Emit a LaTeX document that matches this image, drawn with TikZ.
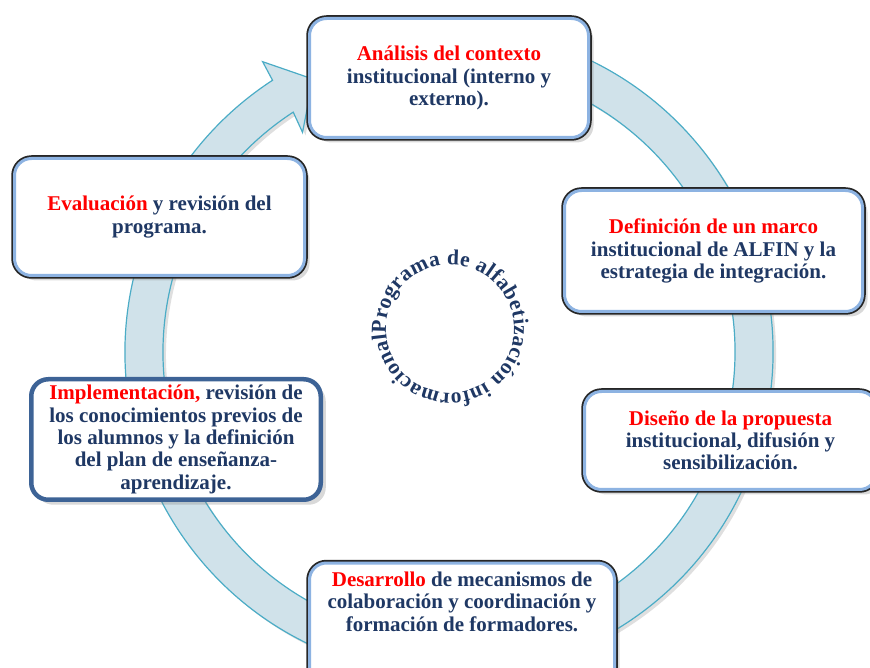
\documentclass[tikz,border=0pt]{standalone}
\usepackage{fontspec}
\setmainfont{Liberation Serif}
\usetikzlibrary{shadows,decorations.text}

\definecolor{navy}{RGB}{31,56,100}
\definecolor{keyred}{RGB}{255,0,0}
\definecolor{ringfill}{RGB}{208,226,234}
\definecolor{ringedge}{RGB}{75,172,198}
\definecolor{boxglow}{RGB}{141,179,226}
\definecolor{boxsteel}{RGB}{61,99,150}

\newcommand{\stagekey}[1]{\textcolor{keyred}{#1}}
\newcommand{\circfont}{\fontsize{21.5}{21.5}\selectfont\bfseries\color{navy}}

\begin{document}
\begin{tikzpicture}[
    x=1pt, y=1pt,
    font=\fontsize{21}{22.3}\selectfont\bfseries,
    boxbase/.style   = {rectangle, rounded corners=17pt, fill=white,
                        align=center, text=navy, inner sep=4pt,
                        drop shadow={shadow xshift=5pt, shadow yshift=-5pt,
                                     opacity=0.3}},
    stage/.style     = {boxbase, preaction={draw=black!85, line width=6.5pt},
                        draw=boxglow, line width=3pt},
    stagebold/.style = {boxbase, draw=boxsteel, line width=4.5pt},
    ring/.style      = {fill=ringfill, draw=ringedge, line width=1.2pt,
                        drop shadow={shadow xshift=3pt, shadow yshift=-3pt,
                                     opacity=0.25}}
]
\useasboundingbox (0,0) rectangle (870,667);

% --- Cycle ring with arrowhead ------------------------------------------------
\coordinate (hub) at (449,315);
\coordinate (ctr) at (450,338);

\draw[ring] ([shift={(75:324)}]hub) arc[start angle=75, end angle=-237, radius=324]
    -- ([shift={(122.7:345)}]hub)
    -- ([shift={(116.5:305)}]hub)
    -- ([shift={(123.7:264)}]hub)
    -- ([shift={(123:286)}]hub)
    arc[start angle=-237, end angle=75, radius=286] -- cycle;

% --- Stages (clockwise from the top) ------------------------------------------
\node[stage, minimum width=279pt, minimum height=119pt] (analisis) at (449,589)
  {\stagekey{Análisis del contexto}\\
   institucional (interno y\\
   externo).};

\node[stage, minimum width=298pt, minimum height=121pt] (definicion) at (713.5,416)
  {\stagekey{Definición de un marco}\\
   institucional de ALFIN y la\\
   estrategia de integración.};

\node[stage, minimum width=292pt, minimum height=98pt] (diseno) at (730.5,226.5)
  {\stagekey{Diseño de la propuesta}\\
   institucional, difusión y\\
   sensibilización.};

\node[stage, minimum width=305pt, inner ysep=9pt, anchor=north] (desarrollo) at (462,105.5)
  {\parbox[c][118pt][t]{296pt}{\centering
   \stagekey{Desarrollo} de mecanismos de\\
   colaboración y coordinación y\\
   formación de formadores.}};

\node[stagebold, minimum width=289.5pt, minimum height=120.5pt] (implementacion) at (176,227.5)
  {\stagekey{Implementación,} revisión de\\
   los conocimientos previos de\\
   los alumnos y la definición\\
   del plan de enseñanza-\\
   aprendizaje.};

\node[stage, minimum width=290pt, minimum height=117pt] (evaluacion) at (159.5,450)
  {\stagekey{Evaluación} y revisión del\\
   programa.};

% --- Circular title -----------------------------------------------------------
\path[decorate, decoration={text along path, text align={fit to path},
      text={|\circfont|Programa de alfabetización informacional}}]
  ([shift={(184:64)}]ctr) arc[start angle=184, end angle=-176, radius=64];

\end{tikzpicture}
\end{document}
